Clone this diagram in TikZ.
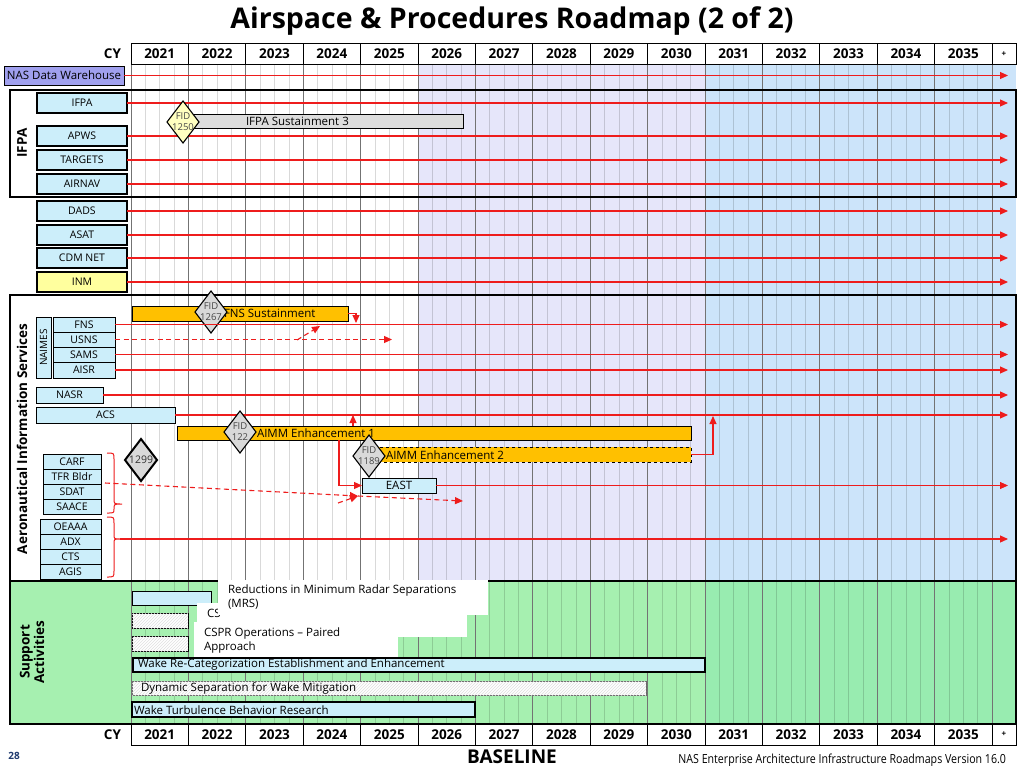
\documentclass[tikz,border=0pt]{standalone}
\usepackage{fontspec}
\setmainfont{Open Sans}
\newfontfamily\condfont[FakeStretch=0.85]{Open Sans}
\usetikzlibrary{arrows.meta,shapes.geometric,patterns}
\definecolor{lav}{HTML}{E6E6FA}
\definecolor{skyb}{HTML}{CCE4FA}
\definecolor{grnA}{HTML}{A6F0B0}
\definecolor{grnB}{HTML}{98ECB0}
\definecolor{boxb}{HTML}{CCEEFA}
\definecolor{purp}{HTML}{A0A0EE}
\definecolor{inmy}{HTML}{FFFF9E}
\definecolor{orng}{HTML}{FFC000}
\definecolor{dgray}{HTML}{D9D9D9}
\definecolor{bgray}{HTML}{DDDDDD}
\definecolor{fidy}{HTML}{FFFFC0}
\definecolor{rline}{HTML}{EE1C1C}
\definecolor{navy}{HTML}{1F3A6E}
\newcommand{\RB}[7]{\node[#1, minimum width={#5pt-#3pt}, minimum height={#6pt-#4pt}, anchor=north west] (#2) at (#3,#4) {#7};}
\begin{document}
\begin{tikzpicture}[x=1pt,y=-1pt,
 every node/.style={inner sep=0pt, outer sep=0pt},
 lbl/.style={font=\fontsize{10.5}{12}\selectfont},
 barl/.style={font=\fontsize{11.5}{13}\selectfont, anchor=west},
 lbox/.style={draw=black, line width=1.2pt, fill=boxb, lbl},
 sbox/.style={draw=black, line width=0.8pt, fill=boxb, lbl},
 barb/.style={draw=black, line width=0.9pt},
 rl/.style={draw=rline, line width=1.1pt},
 arr/.style={-{Triangle[length=8pt,width=7pt]}},
 dsh/.style={dash pattern=on 5pt off 3.5pt},
 dia/.style={diamond, draw=black, line width=1.1pt, minimum width=32pt, minimum height=42pt},
 fidt/.style={font=\fontsize{9.5}{11}\selectfont, text=black!72, align=center},
 hdr/.style={draw=black, fill=white, line width=1pt, font=\bfseries\fontsize{13.5}{15}\selectfont, anchor=north west},
 grpframe/.style={draw=black, line width=1.3pt},
 gmin/.style={draw=black, draw opacity=0.15, line width=0.6pt},
 gmaj/.style={draw=black!55, line width=1pt},
 wbox/.style={fill=white, anchor=north west},
 hatch/.style={fill=white, postaction={pattern=north east lines, pattern color=black!12}},
 glbl/.style={font=\bfseries\fontsize{13.5}{14.5}\selectfont, rotate=90, align=center},
]
\useasboundingbox (0,0) rectangle (1024,768);
\fill[white] (0,0) rectangle (1024,768);
% backgrounds
\fill[lav] (418,64) rectangle (705,581);
\fill[skyb] (705,64) rectangle (1016,581);
\fill[grnA] (10,581) rectangle (705,724);
\fill[grnB] (705,581) rectangle (1016,724);
% grid
\foreach \i in {0,...,14}{\foreach \k in {1,2,3}{\draw[gmin] ({131+57.4*\i+14.35*\k},64) -- ({131+57.4*\i+14.35*\k},724);}}
\foreach \i in {0,...,15}{\draw[gmaj] ({131+57.4*\i},64) -- ({131+57.4*\i},724);}
% frames
\draw[grpframe] (10,90) rectangle (1016,197);
\draw[grpframe] (10,295) rectangle (1016,581);
\draw[grpframe] (10,581) rectangle (1016,724);
% headers
\foreach \yr [count=\c from 0] in {2021,...,2035}{
  \node[hdr, minimum width=57.4pt, minimum height=20pt] (t\c) at ({131+57.4*\c},44) {\yr};
  \node[hdr, minimum width=57.4pt, minimum height=21pt] (b\c) at ({131+57.4*\c},724) {\yr};}
\node[hdr, minimum width=24pt, minimum height=20pt, font=\bfseries\fontsize{8}{9}\selectfont] (tplus) at (992,44) {+};
\node[hdr, minimum width=24pt, minimum height=21pt, font=\bfseries\fontsize{8}{9}\selectfont] (bplus) at (992,724) {+};
\node[anchor=east, font=\bfseries\fontsize{13.5}{15}\selectfont] (tcy) at (121,54) {CY};
\node[anchor=east, font=\bfseries\fontsize{13.5}{15}\selectfont] (bcy) at (121,735) {CY};
% title
\node[font=\bfseries\fontsize{28.5}{32}\selectfont] (title) at (512,21) {Airspace \& Procedures Roadmap (2 of 2)};
\coordinate (xend) at (1008,0);
% NAS
\RB{lbox, fill=purp, line width=0.9pt, font=\fontsize{11.5}{13}\selectfont}{nas}{4}{66}{124}{85}{NAS Data Warehouse}
\draw[rl,arr] (nas.east) -- (nas.east -| xend);
% IFPA group
\node[glbl] (gifpa) at (22,143) {IFPA};
\RB{lbox}{ifpa}{37}{93}{127}{113}{IFPA}
\RB{lbox}{apws}{37}{126}{127}{146}{APWS}
\RB{lbox}{targets}{37}{150}{127}{170}{TARGETS}
\RB{lbox}{airnav}{37}{174}{127}{194}{AIRNAV}
\foreach \n in {ifpa,apws,targets,airnav}{\draw[rl,arr] (\n.east) -- (\n.east -| xend);}
\RB{barb, fill=bgray}{sust3}{188}{114}{463}{128}{}
\node[barl] (sust3t) at (246,121) {IFPA Sustainment 3};
\node[dia, fill=fidy] (f1250) at (183,122) {};
\node[fidt] (f1250t) at (f1250) {FID\\1250};
% ungrouped
\RB{lbox}{dads}{37}{201}{127}{221}{DADS}
\RB{lbox}{asat}{37}{225}{127}{245}{ASAT}
\RB{lbox}{cdm}{37}{248}{127}{268}{CDM NET}
\RB{lbox, fill=inmy}{inm}{37}{272}{127}{292}{INM}
\foreach \n in {dads,asat,cdm,inm}{\draw[rl,arr] (\n.east) -- (\n.east -| xend);}
% AIS group
\node[glbl] (gais) at (22,439) {Aeronautical Information Services};
\RB{barb, fill=orng}{fnsbar}{132}{306}{348}{321}{}
\node[barl] (fnsbart) at (224,313) {FNS Sustainment};
\node[dia, fill=dgray] (f1267) at (211,312) {};
\node[fidt] (f1267t) at (f1267) {FID\\1267};
\RB{sbox}{naimes}{36}{317}{51}{378}{}
\node[lbl, rotate=90, font=\fontsize{10}{11}\selectfont] (naimest) at (naimes) {NAIMES};
\RB{sbox}{fns}{53}{317}{115}{332}{FNS}
\RB{sbox}{usns}{53}{332}{115}{347}{USNS}
\RB{sbox}{sams}{53}{347}{115}{362}{SAMS}
\RB{sbox}{aisr}{53}{362}{115}{378}{AISR}
\foreach \n in {fns,sams,aisr}{\draw[rl,arr] (\n.east) -- (\n.east -| xend);}
\coordinate (usend) at (392,0);
\draw[rl,arr,dsh] (usns.east) -- (usns.east -| usend);
\coordinate (u1) at (297,340);
\coordinate (u2) at (320,326);
\draw[rl,arr,dsh] (u1) -- (u2);
\coordinate (fnsdn) at (356,323);
\draw[rl,arr] (fnsbar.east) -| (fnsdn);
\RB{sbox}{nasr}{36}{387}{103}{403}{NASR}
\RB{sbox}{acs}{36}{407}{175}{423}{ACS}
\foreach \n in {nasr,acs}{\draw[rl,arr] (\n.east) -- (\n.east -| xend);}
\RB{barb, fill=orng}{aimm1}{177}{426}{691}{440}{}
\RB{barb, fill=orng, dashed}{aimm2}{378}{447}{691}{462}{}
\node[barl] (aimm1t) at (257,433) {AIMM Enhancement 1};
\node[barl] (aimm2t) at (386,455) {AIMM Enhancement 2};
\RB{sbox, font=\fontsize{11.5}{13}\selectfont}{east}{362}{478}{436}{493}{EAST}
\draw[rl, line width=0.8pt, arr] (east.east) -- (east.east -| xend);
\coordinate (p1) at (353,426);
\draw[rl,arr] (p1) -- (p1 |- acs.east);
\coordinate (p2) at (713,416);
\draw[rl,arr] (aimm2.east) -| (p2);
\coordinate (p3) at (339,440);
\draw[rl,arr] (p3) |- (east.west);
\node[dia, fill=dgray] (f122) at (240,432) {};
\node[fidt] (f122t) at (f122) {FID\\122};
\node[dia, fill=dgray] (f1189) at (369,456) {};
\node[fidt] (f1189t) at (f1189) {FID\\1189};
\node[dia, fill=dgray, line width=2pt] (d1299) at (141,460) {};
\node[font=\fontsize{10.5}{12}\selectfont, text=black!80] (d1299t) at (d1299) {1299};
\RB{sbox}{carf}{43}{454}{101}{469}{CARF}
\RB{sbox}{tfr}{43}{469}{101}{484}{TFR Bldr}
\RB{sbox}{sdat}{43}{484}{101}{499}{SDAT}
\RB{sbox}{saace}{43}{499}{101}{514}{SAACE}
\RB{sbox}{oeaaa}{40}{519}{101}{534}{OEAAA}
\RB{sbox}{adx}{40}{534}{101}{549}{ADX}
\RB{sbox}{cts}{40}{549}{101}{564}{CTS}
\RB{sbox}{agis}{40}{564}{101}{579}{AGIS}
\draw[rl, line width=1pt] (107,453) .. controls (114,453) .. (114,459) -- (114,499) .. controls (114,504) .. (122,504) .. controls (114,504) .. (114,509) .. controls (114,513) .. (107,513);
\draw[rl, line width=1pt] (107,517) .. controls (114,517) .. (114,523) -- (114,534) .. controls (114,539) .. (120,539) .. controls (114,539) .. (114,544) -- (114,571) .. controls (114,577) .. (107,577);
\coordinate (brtip) at (120,539);
\draw[rl,arr] (brtip) -- (brtip -| xend);
\coordinate (d1) at (105,483);
\coordinate (d2) at (358,496);
\coordinate (d3) at (338,503);
\coordinate (d4) at (463,501);
\draw[rl,arr,dsh] (d1) -- (d2);
\draw[rl,arr,dsh] (d3) -- (d2);
\draw[rl,arr,dsh] (d2) -- (d4);
% Support
\node[glbl] (gsup) at (32,652) {Support\\Activities};
\RB{barb, fill=boxb, line width=0.8pt}{mrsbar}{132}{591}{211}{605}{}
\RB{barb, hatch, line width=0.8pt}{r2bar}{132}{613}{188}{628}{}
\RB{barb, hatch, line width=0.8pt}{r3bar}{132}{636}{188}{651}{}
\RB{wbox}{r2box}{197}{603}{467}{637}{}
\node[barl] (r2t) at (207,613) {CS};
\RB{wbox}{r3box}{194}{622}{398}{657}{}
\node[anchor=north west, align=left, font=\fontsize{11.5}{13.5}\selectfont] (r3t) at (204,628) {CSPR Operations – Paired\\Approach};
\RB{wbox}{r1box}{218}{580}{488}{615}{}
\node[anchor=north west, align=left, font=\fontsize{11.5}{13.5}\selectfont] (r1t) at (228,585) {Reductions in Minimum Radar Separations\\(MRS)};
\RB{barb, fill=boxb, line width=1.2pt}{wrc}{133}{658}{705}{672}{}
\node[barl] (wrct) at (138,665) {Wake Re-Categorization Establishment and Enhancement};
\RB{barb, hatch, draw=black!60, line width=0.8pt}{dsw}{132}{681}{646}{695}{}
\node[barl] (dswt) at (141,688) {Dynamic Separation for Wake Mitigation};
\RB{barb, fill=boxb, line width=1.2pt}{wtb}{132}{702}{475}{717}{}
\node[barl] (wtbt) at (134,710) {Wake Turbulence Behavior Research};
% footer
\node[font=\bfseries\fontsize{10}{11}\selectfont, text=navy] (pg) at (14,756) {28};
\node[font=\bfseries\fontsize{19}{21}\selectfont] (base) at (512,757) {BASELINE};
\node[anchor=east, font=\condfont\fontsize{12.5}{14}\selectfont] (foot) at (1006,760) {NAS Enterprise Architecture Infrastructure Roadmaps Version 16.0};
\end{tikzpicture}
\end{document}
